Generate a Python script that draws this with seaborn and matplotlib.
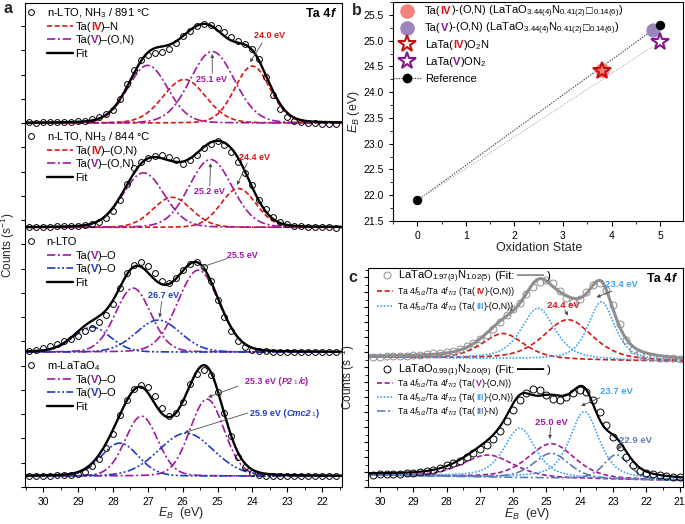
import numpy as np
import matplotlib
matplotlib.use("Agg")
import matplotlib.pyplot as plt
from matplotlib import transforms
from matplotlib.legend import Legend
from matplotlib.lines import Line2D
from matplotlib.ticker import MultipleLocator, FormatStrFormatter
import seaborn as sns

sns.set_style("ticks")
plt.rcParams.update({
    "font.family": ["Liberation Sans", "DejaVu Sans"],
    "mathtext.fontset": "custom",
    "mathtext.rm": "Liberation Sans",
    "mathtext.it": "Liberation Sans:italic",
    "mathtext.bf": "Liberation Sans:bold",
    "axes.edgecolor": "black",
    "axes.linewidth": 0.8,
    "xtick.color": "black", "ytick.color": "black",
    "xtick.direction": "out", "ytick.direction": "out",
    "xtick.major.size": 3.5, "ytick.major.size": 3,
    "xtick.minor.size": 2, "ytick.minor.size": 2,
    "xtick.major.width": 0.8, "ytick.major.width": 0.8,
    "xtick.minor.width": 0.6, "ytick.minor.width": 0.6,
    "xtick.labelsize": 7.5, "ytick.labelsize": 7.5,
    "axes.labelsize": 9,
})

RED = "#D81414"
PURP = "#A0199E"
BLUE = "#1F3BC4"
LBLUE = "#3DA2F2"
SBLUE = "#5B7CB2"
GREY = "#8E8E8E"
PINK = "#F4827C"
LAV = "#9C84BF"
DRED = "#C40F0F"
DPURP = "#86168F"

DASH = (0, (3.0, 1.6))
DASHDOT = (0, (5.0, 1.6, 1.2, 1.6))
DASHDOTDOT = (0, (5.0, 1.4, 1.2, 1.4, 1.2, 1.4))
DOT = (0, (1.0, 1.0))

# ---------------- panel a : Ta 4f spectra ----------------
# measured counts above each spectrum's baseline (axis tick units)
ea = np.round(np.arange(30.4, 21.5, -0.2), 1)
a891 = [0.03, 0.02, 0.03, 0.04, 0.03, 0.05, 0.05, 0.07, 0.10, 0.15,
        0.25, 0.38, 0.55, 1.0, 1.6, 2.2, 2.6, 2.82, 2.9, 2.95,
        3.05, 3.3, 3.6, 3.8, 4.0, 4.1, 4.05, 3.9, 3.75, 3.55,
        3.4, 3.25, 3.05, 2.65, 1.9, 1.15, 0.6, 0.25, 0.1, 0.04,
        0.02, 0.0, -0.02, -0.02, -0.03]
a844 = [0.02, 0.03, 0.02, 0.03, 0.04, 0.04, 0.05, 0.07, 0.10, 0.14,
        0.22, 0.40, 0.68, 1.15, 1.8, 2.45, 2.7, 2.85, 2.93, 2.97,
        2.92, 2.78, 2.62, 2.78, 3.0, 3.28, 3.45, 3.55, 3.38, 3.1,
        2.7, 2.25, 1.75, 1.15, 0.75, 0.42, 0.22, 0.12, 0.07, 0.04,
        0.03, 0.01, 0.0, 0.0, -0.01]
alto = [0.05, 0.10, 0.15, 0.24, 0.32, 0.44, 0.56, 0.68, 0.85, 1.0,
        1.25, 1.55, 1.98, 2.65, 3.25, 3.6, 3.7, 3.55, 3.25, 2.95,
        2.85, 3.05, 3.4, 3.62, 3.72, 3.5, 2.95, 2.15, 1.45, 0.85,
        0.45, 0.22, 0.10, 0.05, 0.03, 0.02, 0.01, 0.0, 0.0, 0.0,
        -0.01, 0.0, -0.01, 0.0, -0.01]
amono = [0.0, 0.0, 0.01, 0.02, 0.03, 0.04, 0.05, 0.08, 0.18, 0.4,
         0.7, 1.15, 1.72, 2.5, 3.15, 3.57, 3.75, 3.68, 3.3, 2.8,
         2.47, 2.6, 3.05, 3.8, 4.2, 4.37, 4.15, 3.45, 2.6, 1.65,
         0.78, 0.36, 0.13, 0.05, 0.02, 0.01, 0.0, 0.0, 0.0, 0.0,
         0.0, 0.0, 0.0, 0.0, 0.0]
a_base = [15.0, 10.7, 5.56, 0.45]

# fitted components: (centre eV, height, FWHM eV, lorentz fraction)
a891_iv = [(25.95, 1.80, 1.45, 0.1), (24.0, 2.35, 1.2, 0.1)]
a891_v = [(27.0, 2.38, 1.35, 0.1), (25.15, 2.95, 1.5, 0.1)]
a844_iv = [(26.3, 1.24, 1.3, 0.1), (24.4, 1.6, 1.2, 0.1)]
a844_v = [(27.12, 2.25, 1.4, 0.1), (25.2, 2.8, 1.45, 0.1)]
alto_v1 = [(27.42, 2.64, 1.2, 0.1), (25.55, 3.38, 1.4, 0.1)]
alto_v2 = [(28.6, 1.03, 1.25, 0.1), (26.7, 1.32, 1.5, 0.1)]
amono_v1 = [(27.18, 2.47, 1.1, 0.1), (25.3, 3.17, 1.15, 0.1)]
amono_v2 = [(27.8, 1.36, 1.25, 0.1), (25.9, 1.77, 1.85, 0.1)]

# ---------------- panel b : E_B vs oxidation state ----------------
ox_iv, eb_iv = [3.8], [24.43]
ox_v, eb_v = [4.85], [25.21]
ox_o2n, eb_o2n = [3.8], [24.42]
ox_on2, eb_on2 = [5.0], [24.98]
ox_ref, eb_ref = [0, 5], [21.9, 25.31]

# ---------------- panel c : oxynitrides ----------------
ec = np.round(np.arange(30.2, 20.9, -0.2), 1)
c_n1 = [0.03, 0.05, 0.06, 0.07, 0.09, 0.11, 0.14, 0.17, 0.21, 0.26,
        0.30, 0.36, 0.45, 0.56, 0.72, 0.95, 1.2, 1.5, 1.9, 2.35,
        2.8, 3.2, 3.65, 4.2, 4.7, 5.05, 5.16, 4.95, 4.45, 3.95,
        3.7, 3.9, 4.35, 4.8, 4.93, 4.5, 3.5, 2.2, 1.15, 0.5,
        0.22, 0.1, 0.03, -0.02, -0.05, -0.08, -0.1]
c_n2 = [0.03, 0.05, 0.06, 0.08, 0.10, 0.12, 0.15, 0.18, 0.25, 0.33,
        0.48, 0.67, 0.80, 0.95, 1.2, 1.45, 1.72, 2.0, 2.4, 2.95,
        3.6, 4.35, 5.0, 5.5, 5.75, 5.67, 5.33, 5.04, 5.0, 5.22,
        5.44, 5.67, 5.56, 5.0, 4.22, 3.33, 2.56, 1.89, 1.22, 0.67,
        0.3, 0.12, 0.04, -0.02, -0.06, -0.1, -0.14]
c_base = [8.65, 0.8]
c_slope = [0.03, 0.04]
c_n1_iv = [(26.3, 1.7, 1.5, 0.5), (24.35, 2.68, 1.75, 0.5)]
c_n1_iii = [(25.25, 3.42, 1.2, 0.6), (23.35, 3.9, 0.95, 0.6)]
c_n2_v = [(26.75, 1.47, 1.8, 0.4), (24.85, 2.3, 1.65, 0.4)]
c_n2_iii = [(25.8, 3.3, 1.12, 0.6), (23.86, 4.48, 1.05, 0.6)]
c_n2_iiin = [(24.85, 1.66, 1.25, 0.4), (22.9, 1.64, 0.9, 0.4)]


def pv(e, c, h, w, eta):
    g = np.exp(-4 * np.log(2) * (e - c) ** 2 / w ** 2)
    lo = 1 / (1 + 4 * (e - c) ** 2 / w ** 2)
    return h * ((1 - eta) * g + eta * lo)


def T(s, c="k", w="normal", st="normal"):
    return (s, c, w, st)


fig = plt.figure(figsize=(6.85, 5.24), dpi=100)
W, H = 685, 524


def box(l, t, r, b):
    return [l / W, 1 - b / H, (r - l) / W, (b - t) / H]


ax_a = fig.add_axes(box(25, 3, 342, 487))
ax_b = fig.add_axes(box(393, 2, 683, 221))
ax_c = fig.add_axes(box(368, 268, 683, 487))


def rainbow(x, y, parts, size, transform):
    # text made of pieces with their own colour / weight, on one baseline
    r = fig.canvas.get_renderer()
    t = transform
    for s, c, w, st in parts:
        txt = fig.text(x, y, s, color=c, fontsize=size, fontweight=w,
                       fontstyle=st, transform=t, va="baseline", ha="left")
        t = transforms.offset_copy(t, x=txt.get_window_extent(r).width, units="dots")


legend_jobs = []


def add_legend(ax, handles, rows, anchor, loc, size, hl, htp, lsp=0.3):
    plain = ["".join(p[0] for p in parts).replace("$", "").replace("_", "")
             .replace("{", "").replace("}", "") for parts in rows]
    leg = Legend(ax, handles, plain, loc=loc, bbox_to_anchor=anchor,
                 frameon=False, fontsize=size, handlelength=hl,
                 handletextpad=htp, labelspacing=lsp, borderpad=0,
                 borderaxespad=0)
    ax.add_artist(leg)
    legend_jobs.append((leg, rows, size))


def arrow(ax, tail, tip):
    ax.annotate("", xy=tip, xytext=tail,
                arrowprops=dict(arrowstyle="-|>", color="0.3", lw=0.6,
                                mutation_scale=5, shrinkA=0, shrinkB=0))


def circle(col, ms):
    return Line2D([], [], ls="none", marker="o", ms=ms, mfc="none", mec=col, mew=0.7)


# ---------------- panel a ----------------
ef_a = np.linspace(30.55, 21.4, 500)
a_sets = [
    (a891, [(a891_iv, RED, DASH), (a891_v, PURP, DASHDOT)]),
    (a844, [(a844_iv, RED, DASH), (a844_v, PURP, DASHDOT)]),
    (alto, [(alto_v1, PURP, DASHDOT), (alto_v2, BLUE, DASHDOTDOT)]),
    (amono, [(amono_v1, PURP, DASHDOT), (amono_v2, BLUE, DASHDOTDOT)]),
]
for (pts, groups), base in zip(a_sets, a_base):
    total = np.zeros_like(ef_a)
    for peaks, col, ls in groups:
        for c, h, w, et in peaks:
            comp = pv(ef_a, c, h, w, et)
            total += comp
            sns.lineplot(x=ef_a, y=base + comp, ax=ax_a, color=col,
                         linestyle=ls, linewidth=1.2, errorbar=None)
    sns.lineplot(x=ea, y=base + np.asarray(pts), ax=ax_a, color="k",
                 linestyle="none", marker="o", markersize=4.2,
                 markerfacecolor="none", markeredgecolor="k",
                 markeredgewidth=0.7, errorbar=None)
    sns.lineplot(x=ef_a, y=base + total, ax=ax_a, color="k",
                 linewidth=1.7, errorbar=None)

ax_a.set_xlim(30.52, 21.43)
ax_a.set_ylim(0, 19.95)
ax_a.xaxis.set_major_locator(MultipleLocator(1))
ax_a.xaxis.set_minor_locator(MultipleLocator(0.5))
ax_a.yaxis.set_major_locator(MultipleLocator(1))
ax_a.tick_params(labelleft=False)
ax_a.set_xlabel("$E_B$  (eV)")
ax_a.set_ylabel("Counts (s$^{-1}$)", fontsize=8.5)
ax_a.xaxis.set_label_coords(0.492, -0.038)
ax_a.yaxis.set_label_coords(-0.024, 0.5)


def fa(px, py):
    return ((px - 25) / 317, (487 - py) / 484)


l_dash = Line2D([], [], color=RED, ls=DASH, lw=1.2)
l_pdd = Line2D([], [], color=PURP, ls=DASHDOT, lw=1.2)
l_bdd = Line2D([], [], color=BLUE, ls=DASHDOTDOT, lw=1.2)
l_fit = Line2D([], [], color="k", lw=1.7)
a_blocks = [
    (13, [T("n-LTO, NH$_3$ / 891 °C")],
     [l_dash, l_pdd, l_fit],
     [[T("Ta("), T("IV", RED, "bold"), T(")–N")],
      [T("Ta("), T("V", PURP, "bold"), T(")–(O,N)")], [T("Fit")]]),
    (137, [T("n-LTO, NH$_3$ / 844 °C")],
     [l_dash, l_pdd, l_fit],
     [[T("Ta("), T("IV", RED, "bold"), T(")–(O,N)")],
      [T("Ta("), T("V", PURP, "bold"), T(")–(O,N)")], [T("Fit")]]),
    (242, [T("n-LTO")],
     [l_pdd, l_bdd, l_fit],
     [[T("Ta("), T("V", PURP, "bold"), T(")–O")],
      [T("Ta("), T("V", BLUE, "bold"), T(")–O")], [T("Fit")]]),
    (366, [T("m-LaTaO$_4$")],
     [l_pdd, l_bdd, l_fit],
     [[T("Ta("), T("V", PURP, "bold"), T(")–O")],
      [T("Ta("), T("V", BLUE, "bold"), T(")–O")], [T("Fit")]]),
]
for ny, name, hands, rows in a_blocks:
    add_legend(ax_a, [circle("k", 4.2)], [name], fa(25.5, ny), "center left", 8, 1.0, 0.9)
    add_legend(ax_a, hands, rows, fa(47, ny + 9), "upper left", 8, 2.35, 0.2, 0.3)

ax_a.text(23.50, 18.59, "24.0 eV", color=RED, fontsize=6.5, fontweight="bold", ha="center", va="center")
arrow(ax_a, (23.72, 18.30), (a891_iv[1][0] + 0.07, a_base[0] + a891_iv[1][1] + 0.15))
ax_a.text(25.16, 16.78, "25.1 eV", color=PURP, fontsize=6.5, fontweight="bold", ha="center", va="center")
arrow(ax_a, (25.15, 17.05), (a891_v[1][0], a_base[0] + a891_v[1][1] - 0.1))
ax_a.text(23.93, 13.6, "24.4 eV", color=RED, fontsize=6.5, fontweight="bold", ha="center", va="center")
arrow(ax_a, (24.15, 13.35), (a844_iv[1][0] + 0.04, a_base[1] + a844_iv[1][1] + 0.15))
ax_a.text(25.24, 12.16, "25.2 eV", color=PURP, fontsize=6.5, fontweight="bold", ha="center", va="center")
arrow(ax_a, (25.22, 12.42), (a844_v[1][0], a_base[1] + a844_v[1][1] - 0.15))
ax_a.text(24.3, 9.56, "25.5 eV", color=PURP, fontsize=6.5, fontweight="bold", ha="center", va="center")
arrow(ax_a, (24.72, 9.42), (alto_v1[1][0] - 0.05, a_base[2] + alto_v1[1][1] + 0.1))
ax_a.text(26.56, 7.91, "26.7 eV", color=BLUE, fontsize=6.5, fontweight="bold", ha="center", va="center")
arrow(ax_a, (26.6, 7.65), (alto_v2[1][0] - 0.04, a_base[2] + alto_v2[1][1] + 0.1))
arrow(ax_a, (24.41, 4.16), (amono_v1[1][0] - 0.03, a_base[3] + amono_v1[1][1] + 0.08))
arrow(ax_a, (24.13, 3.05), (amono_v2[1][0] + 0.05, a_base[3] + amono_v2[1][1] + 0.02))

# ---------------- panel b ----------------
sns.lineplot(x=ox_ref, y=eb_ref, ax=ax_b, color="0.25", linestyle=(0, (1.2, 1.2)),
             linewidth=0.8, errorbar=None)
sns.lineplot(x=[ox_ref[0], ox_on2[0]], y=[eb_ref[0], eb_on2[0]], ax=ax_b, color="0.72",
             linestyle=(0, (1.2, 1.2)), linewidth=0.8, errorbar=None)
sns.lineplot(x=ox_iv, y=eb_iv, ax=ax_b, linestyle="none", marker="o", markersize=9.5,
             markerfacecolor=PINK, markeredgecolor=PINK, color=PINK, errorbar=None)
sns.lineplot(x=ox_o2n, y=eb_o2n, ax=ax_b, linestyle="none", marker="*", markersize=13,
             markerfacecolor="none", markeredgecolor=DRED, markeredgewidth=1.5,
             color=DRED, errorbar=None)
sns.lineplot(x=ox_v, y=eb_v, ax=ax_b, linestyle="none", marker="o", markersize=9.5,
             markerfacecolor=LAV, markeredgecolor=LAV, color=LAV, errorbar=None)
sns.lineplot(x=ox_on2, y=eb_on2, ax=ax_b, linestyle="none", marker="*", markersize=13,
             markerfacecolor="white", markeredgecolor=DPURP, markeredgewidth=1.5,
             color=DPURP, errorbar=None)
sns.lineplot(x=ox_ref, y=eb_ref, ax=ax_b, linestyle="none", marker="o", markersize=6,
             markerfacecolor="k", markeredgecolor="k", color="k", errorbar=None)
ax_b.set_xlim(-0.5, 5.47)
ax_b.set_ylim(21.5, 25.75)
ax_b.xaxis.set_major_locator(MultipleLocator(1))
ax_b.xaxis.set_minor_locator(MultipleLocator(0.5))
ax_b.yaxis.set_major_locator(MultipleLocator(0.5))
ax_b.yaxis.set_minor_locator(MultipleLocator(0.25))
ax_b.yaxis.set_major_formatter(FormatStrFormatter("%.1f"))
ax_b.set_xlabel("Oxidation State")
ax_b.set_ylabel("$E_B$ (eV)")
ax_b.xaxis.set_label_coords(0.503, -0.095)
ax_b.yaxis.set_label_coords(-0.107, 0.5)

b_handles = [
    Line2D([], [], ls="none", marker="o", ms=9.5, mfc=PINK, mec=PINK),
    Line2D([], [], ls="none", marker="o", ms=9.5, mfc=LAV, mec=LAV),
    Line2D([], [], ls="none", marker="*", ms=13, mfc="white", mec=DRED, mew=1.5),
    Line2D([], [], ls="none", marker="*", ms=13, mfc="white", mec=DPURP, mew=1.5),
    Line2D([], [], ls=(0, (1.2, 1.2)), lw=0.8, color="0.25", marker="o", ms=6, mfc="k", mec="k"),
]
b_rows = [
    [T("Ta("), T("IV", RED, "bold"), T(")-(O,N) (LaTaO$_{3.44(4)}$N$_{0.41(2)}$"), T("□"), T("$_{0.14(6)}$)")],
    [T("Ta("), T("V", DPURP, "bold"), T(")-(O,N) (LaTaO$_{3.44(4)}$N$_{0.41(2)}$"), T("□"), T("$_{0.14(6)}$)")],
    [T("LaTa("), T("IV", RED, "bold"), T(")O$_2$N")],
    [T("LaTa("), T("V", DPURP, "bold"), T(")ON$_2$")],
    [T("Reference")],
]
add_legend(ax_b, b_handles, b_rows, (0.0, (221 - 6.5) / 219), "upper left", 8, 2.5, 0.38, 0.62)

# ---------------- panel c ----------------
ef_c = np.linspace(30.45, 20.85, 500)
c_sets = [
    (c_n1, GREY, 2.2, [(c_n1_iv, RED, DASH), (c_n1_iii, LBLUE, DOT)]),
    (c_n2, "k", 1.6, [(c_n2_v, PURP, DASH), (c_n2_iii, LBLUE, DOT), (c_n2_iiin, SBLUE, DASHDOT)]),
]
for (pts, fcol, flw, groups), base, slope in zip(c_sets, c_base, c_slope):
    bg = base - slope * (30.2 - ef_c)
    total = np.zeros_like(ef_c)
    for peaks, col, ls in groups:
        for c, h, w, et in peaks:
            comp = pv(ef_c, c, h, w, et)
            total += comp
            sns.lineplot(x=ef_c, y=bg + comp, ax=ax_c, color=col, linestyle=ls,
                         linewidth=1.2, errorbar=None)
    sns.lineplot(x=ec, y=base + np.asarray(pts), ax=ax_c, color=fcol,
                 linestyle="none", marker="o", markersize=5,
                 markerfacecolor="none", markeredgecolor=fcol,
                 markeredgewidth=0.7, errorbar=None)
    sns.lineplot(x=ef_c, y=bg + total, ax=ax_c, color=fcol, linewidth=flw, errorbar=None)

ax_c.set_xlim(30.36, 20.9)
ax_c.set_ylim(0, 14.6)
ax_c.xaxis.set_major_locator(MultipleLocator(1))
ax_c.xaxis.set_minor_locator(MultipleLocator(0.5))
ax_c.yaxis.set_major_locator(MultipleLocator(1))
ax_c.yaxis.set_minor_locator(MultipleLocator(0.5))
ax_c.tick_params(labelleft=False)
ax_c.set_xlabel("$E_B$  (eV)")
ax_c.set_ylabel("Counts (s$^{-1}$)", fontsize=8.5)
ax_c.xaxis.set_label_coords(0.505, -0.085)
ax_c.yaxis.set_label_coords(-0.035, 0.5)


def fc(px, py):
    return ((px - 368) / 315, (487 - py) / 219)


F = "Ta 4$f_{5/2}$/Ta 4$f_{7/2}$ (Ta("
add_legend(ax_c, [circle(GREY, 5)],
           [[T("LaTaO$_{1.97(3)}$N$_{1.02(5)}$"), T(" (Fit:"), T(" ━━━━", GREY), T(" )")]],
           fc(381.5, 276), "center left", 8, 1.0, 0.5)
add_legend(ax_c, [Line2D([], [], color=RED, ls=DASH, lw=1.2), Line2D([], [], color=LBLUE, ls=DOT, lw=1.2)],
           [[T(F), T("IV", RED, "bold"), T(")-(O,N))")],
            [T(F), T("III", LBLUE, "bold"), T(")-(O,N))")]],
           fc(377, 287), "upper left", 6.2, 1.86, 0.47, 0.65)
add_legend(ax_c, [circle("k", 5)],
           [[T("LaTaO$_{0.99(1)}$N$_{2.00(9)}$"), T(" (Fit:"), T(" ━━━━", "k"), T(" )")]],
           fc(381.5, 370), "center left", 8, 1.0, 0.5)
add_legend(ax_c, [Line2D([], [], color=PURP, ls=DASH, lw=1.2), Line2D([], [], color=LBLUE, ls=DOT, lw=1.2),
                  Line2D([], [], color=SBLUE, ls=DASHDOT, lw=1.2)],
           [[T(F), T("V", PURP, "bold"), T(")-(O,N))")],
            [T(F), T("III", LBLUE, "bold"), T(")-(O,N))")],
            [T(F), T("III", SBLUE, "bold"), T(")-N)")]],
           fc(377, 379), "upper left", 6.2, 1.86, 0.47, 0.6)

ax_c.text(22.74, 13.47, "23.4 eV", color=LBLUE, fontsize=6.8, fontweight="bold", ha="center", va="center")
arrow(ax_c, (23.04, 13.05), (c_n1_iii[1][0] + 0.15, c_base[0] + c_n1_iii[1][1] + 0.1))
ax_c.text(24.50, 12.1, "24.4 eV", color=RED, fontsize=6.8, fontweight="bold", ha="center", va="center")
arrow(ax_c, (24.45, 11.8), (c_n1_iv[1][0], c_base[0] + c_n1_iv[1][1] + 0.1))
ax_c.text(22.89, 6.36, "23.7 eV", color=LBLUE, fontsize=6.8, fontweight="bold", ha="center", va="center")
arrow(ax_c, (23.4, 5.95), (c_n2_iii[1][0] + 0.1, c_base[1] + c_n2_iii[1][1] + 0.12))
ax_c.text(24.85, 4.3, "25.0 eV", color=PURP, fontsize=6.8, fontweight="bold", ha="center", va="center")
arrow(ax_c, (24.88, 4.0), (c_n2_v[1][0] + 0.05, c_base[1] + c_n2_v[1][1] + 0.1))
ax_c.text(22.34, 3.13, "22.9 eV", color=SBLUE, fontsize=6.8, fontweight="bold", ha="center", va="center")
arrow(ax_c, (22.72, 2.98), (c_n2_iiin[1][0] - 0.05, c_base[1] + c_n2_iiin[1][1] + 0.05))

# ---------------- texts with mixed styles ----------------
fig.canvas.draw()
rainbow(24.21, 4.25, [T("25.3 eV (", PURP, "bold"), T("P2", PURP, "bold", "italic"),
                      T("$_1$", PURP), T("/c", PURP, "bold", "italic"), T(")", PURP, "bold")],
        6.5, ax_a.transData)
rainbow(24.07, 2.93, [T("25.9 eV (", BLUE, "bold"), T("Cmc2", BLUE, "bold", "italic"),
                      T("$_1$", BLUE), T(")", BLUE, "bold")],
        6.5, ax_a.transData)
rainbow(306 / W, 1 - 17 / H, [T("Ta 4", "k", "bold"), T("f", "k", "bold", "italic")], 9, fig.transFigure)
rainbow(647 / W, 1 - 282 / H, [T("Ta 4", "k", "bold"), T("f", "k", "bold", "italic")], 9, fig.transFigure)
fig.text(4 / W, 1 - 13 / H, "a", fontsize=11.5, fontweight="bold", va="baseline")
fig.text(352 / W, 1 - 15 / H, "b", fontsize=11.5, fontweight="bold", va="baseline")
fig.text(348 / W, 1 - 282 / H, "c", fontsize=11.5, fontweight="bold", va="baseline")

for leg, rows, size in legend_jobs:
    for txt, parts in zip(leg.get_texts(), rows):
        x, y = txt.get_transform().transform((0, 0))
        txt.set_visible(False)
        rainbow(x, y, parts, size, transforms.IdentityTransform())

fig.savefig("out.png", dpi=100, facecolor="white")
